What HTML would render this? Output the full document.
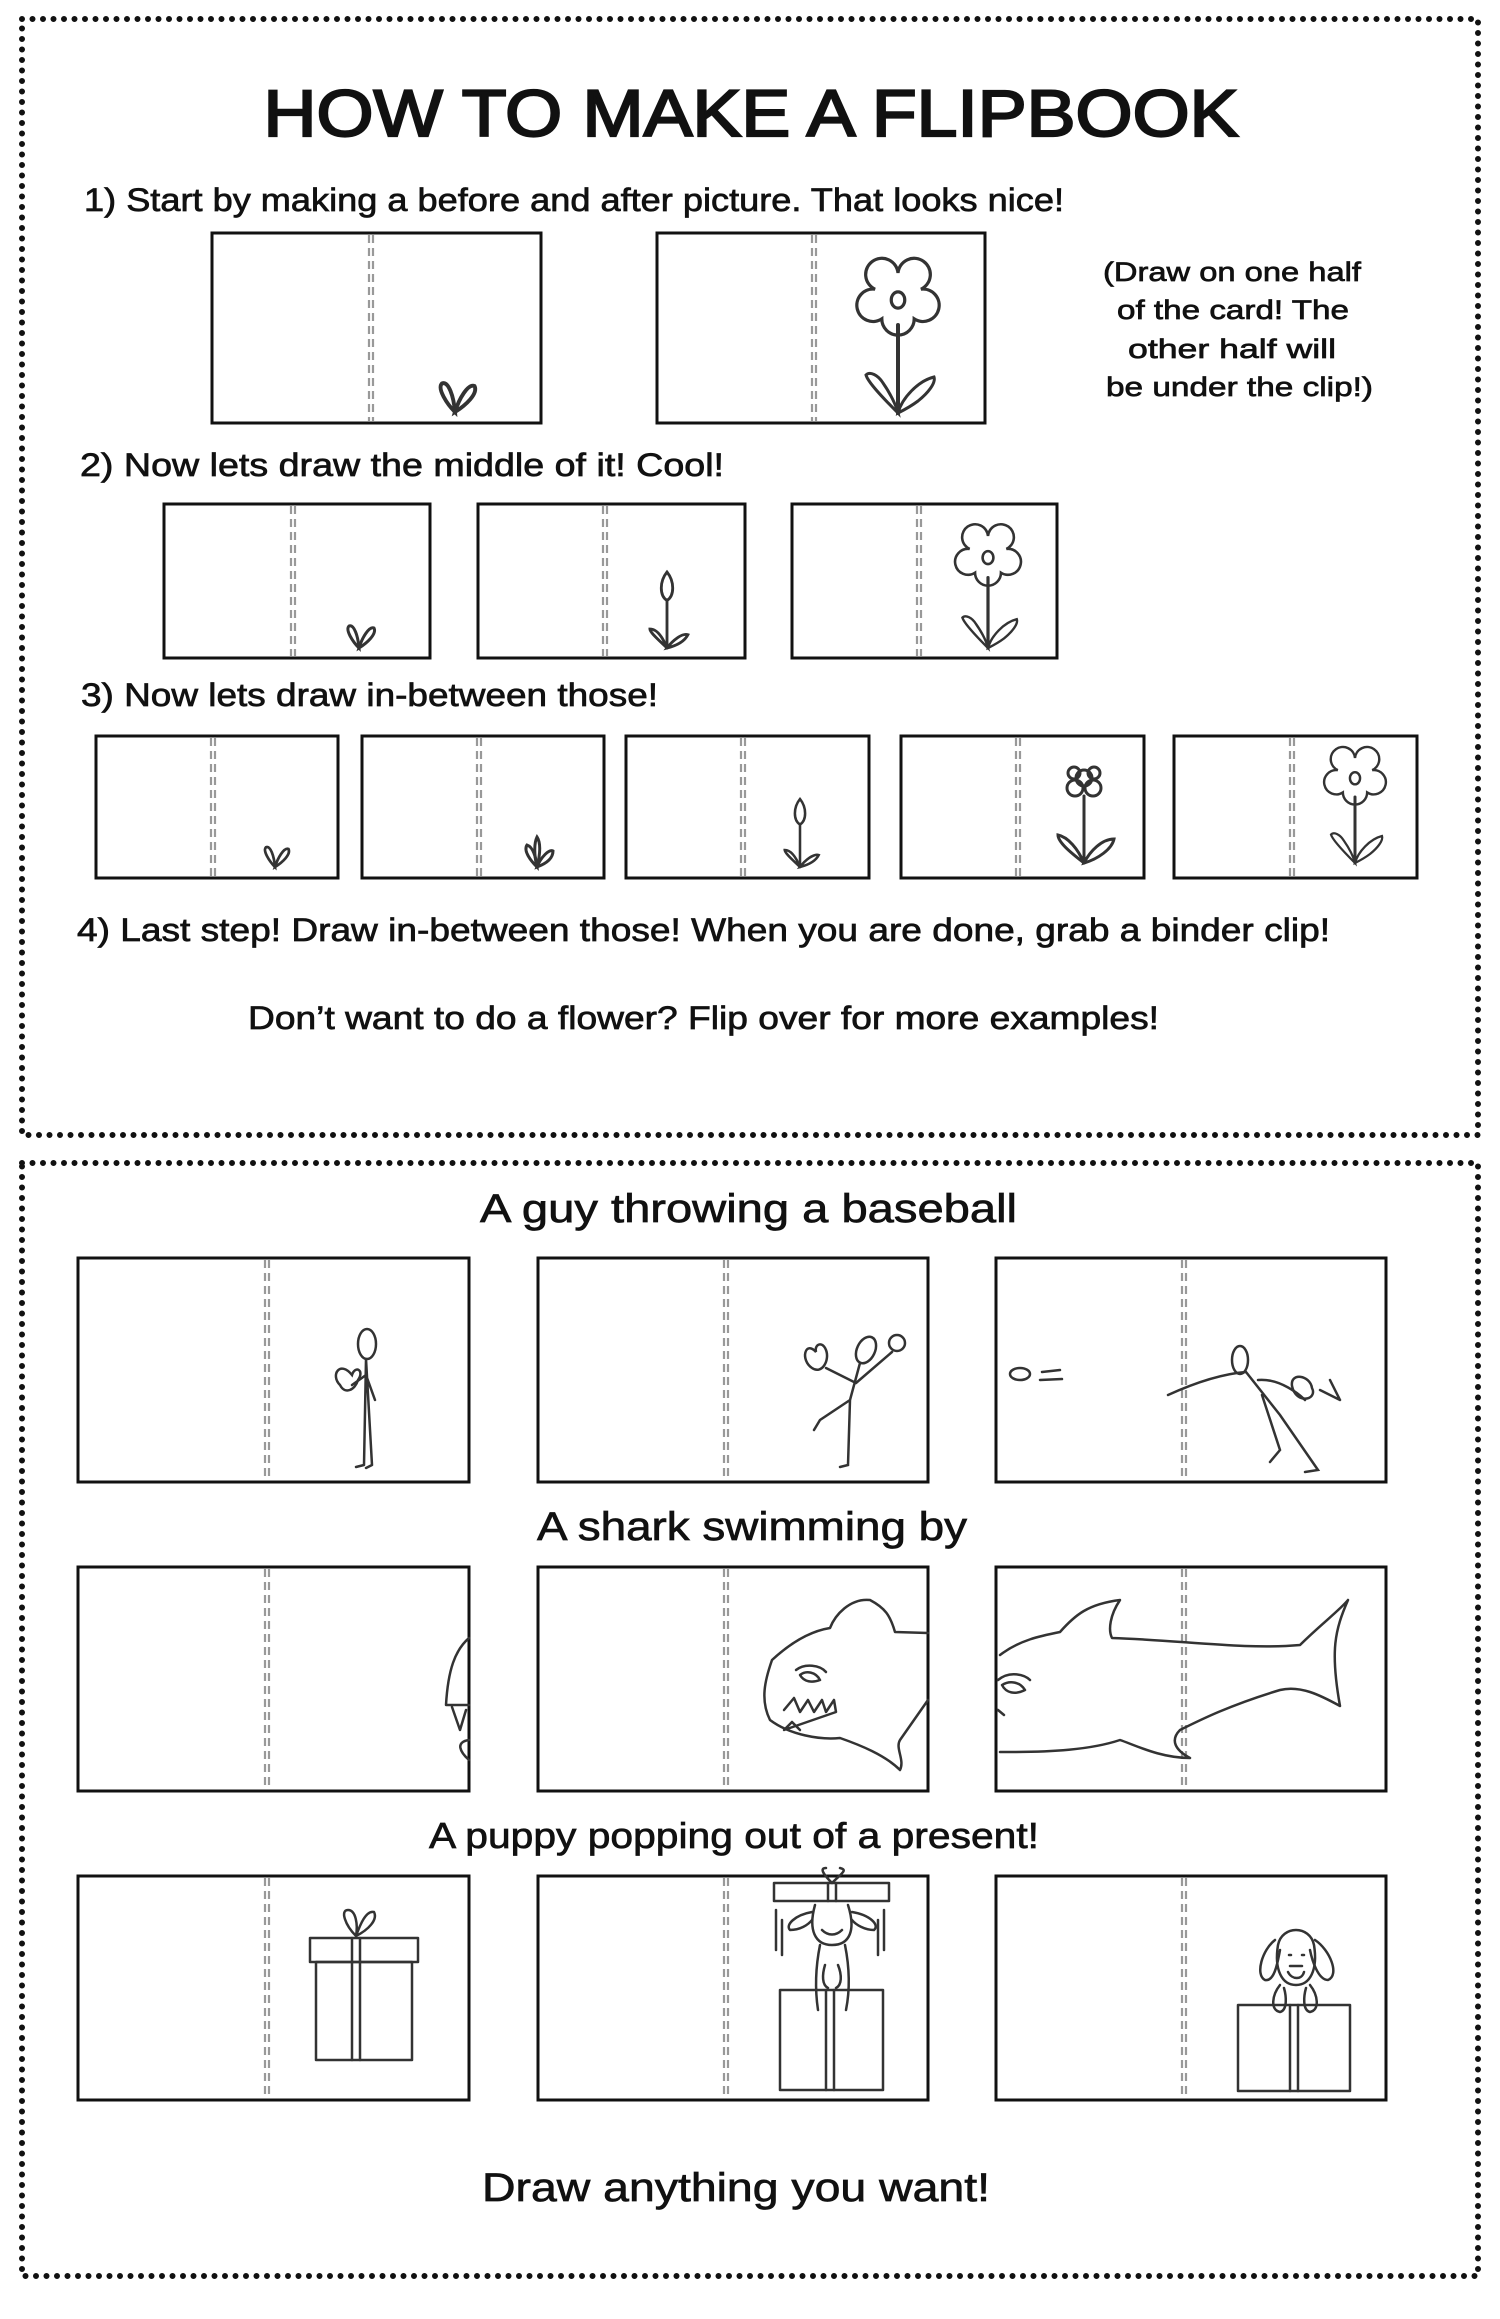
<!DOCTYPE html>
<html><head><meta charset="utf-8"><style>
html,body{margin:0;padding:0;background:#fff;}
svg{display:block;}
text{font-family:"Liberation Sans",sans-serif;fill:#111;stroke:#111;stroke-width:0.7;}
</style></head><body>
<svg width="1500" height="2319" viewBox="0 0 1500 2319" xmlns="http://www.w3.org/2000/svg">
<defs>
<g id="flower" fill="none" stroke="#333" stroke-width="3" stroke-linecap="round">
 <g transform="translate(0,-113) scale(1.35) translate(0,113)">
 <path d="M0,-113 m0,-20 a12,12 0 1,1 17,12 a12,12 0 1,1 -5,22 a12,12 0 1,1 -24,0 a12,12 0 1,1 -5,-22 a12,12 0 1,1 17,-12 z" stroke-width="2.4"/>
 <ellipse cx="0" cy="-113" rx="5" ry="6" stroke-width="2.4"/>
 </g>
 <line x1="0" y1="-88" x2="0" y2="0" stroke-width="4"/>
 <path d="M0,0 C-10,-10 -30,-30 -32,-38 C-28,-42 -20,-38 -15,-30 C-8,-20 -2,-8 0,0 Z"/>
 <path d="M0,0 C4,-15 20,-32 36,-36 C38,-30 30,-20 20,-12 C12,-6 4,-2 0,0 Z"/>
</g>
<g id="sprout" fill="none" stroke="#333" stroke-width="3" stroke-linecap="round">
 <path d="M0,0 C-6,-6 -14,-18 -10,-22 C-5,-24 -1,-12 0,0 Z"/>
 <path d="M0,0 C3,-10 10,-22 15,-20 C18,-14 8,-5 0,0 Z"/>
</g>
<g id="tulip" fill="none" stroke="#333" stroke-width="3" stroke-linecap="round">
 <path d="M0,-50 C-8,-55 -8,-70 0,-80 C8,-70 8,-55 0,-50 Z"/>
 <line x1="0" y1="-50" x2="0" y2="0"/>
 <path d="M0,0 C-6,-6 -18,-16 -18,-20 C-10,-20 -4,-10 0,0 Z"/>
 <path d="M0,0 C6,-8 16,-16 22,-14 C18,-6 8,-2 0,0 Z"/>
</g>
<g id="bud3" fill="none" stroke="#333" stroke-width="3" stroke-linecap="round">
 <path d="M0,0 C-6,-6 -14,-16 -10,-22 C-4,-20 -1,-10 0,0 Z"/>
 <path d="M0,0 C4,-10 12,-18 16,-16 C16,-8 8,-3 0,0 Z"/>
 <path d="M0,0 C-3,-12 -3,-24 0,-30 C4,-24 3,-12 0,0 Z"/>
</g>
<g id="flower2" fill="none" stroke="#333" stroke-width="3" stroke-linecap="round">
 <circle cx="-9" cy="-75" r="8"/><circle cx="9" cy="-75" r="8"/><circle cx="0" cy="-85" r="8"/><circle cx="-10" cy="-90" r="6"/><circle cx="10" cy="-90" r="6"/>
 <line x1="0" y1="-67" x2="0" y2="0"/>
 <path d="M0,0 C-10,-8 -26,-20 -26,-28 C-16,-26 -6,-14 0,0 Z"/>
 <path d="M0,0 C6,-12 18,-24 30,-24 C28,-14 14,-4 0,0 Z"/>
</g>
</defs>

<rect x="22" y="19" width="1456" height="1116" fill="none" stroke="#111" stroke-width="6" stroke-dasharray="0 10.5" stroke-linecap="round"/>
<rect x="22" y="1163" width="1456" height="1113" fill="none" stroke="#111" stroke-width="6" stroke-dasharray="0 10.5" stroke-linecap="round"/>

<text x="751" y="136" text-anchor="middle" font-size="66" style="stroke-width:2.2" textLength="975" lengthAdjust="spacingAndGlyphs">HOW TO MAKE A FLIPBOOK</text>
<text x="84" y="211" font-size="32" textLength="980" lengthAdjust="spacingAndGlyphs">1) Start by making a before and after picture. That looks nice!</text>

<g fill="none" stroke="#111" stroke-width="3">
<rect x="212" y="233" width="329" height="190"/>
<rect x="657" y="233" width="328" height="190"/>
<rect x="164" y="504" width="266" height="154"/>
<rect x="478" y="504" width="267" height="154"/>
<rect x="792" y="504" width="265" height="154"/>
<rect x="96" y="736" width="242" height="142"/>
<rect x="362" y="736" width="242" height="142"/>
<rect x="626" y="736" width="243" height="142"/>
<rect x="901" y="736" width="243" height="142"/>
<rect x="1174" y="736" width="243" height="142"/>
<rect x="78" y="1258" width="391" height="224"/>
<rect x="538" y="1258" width="390" height="224"/>
<rect x="996" y="1258" width="390" height="224"/>
<rect x="78" y="1567" width="391" height="224"/>
<rect x="538" y="1567" width="390" height="224"/>
<rect x="996" y="1567" width="390" height="224"/>
<rect x="78" y="1876" width="391" height="224"/>
<rect x="538" y="1876" width="390" height="224"/>
<rect x="996" y="1876" width="390" height="224"/>
</g>

<g stroke="#999" stroke-width="2.2" stroke-dasharray="8 5">
<path d="M369,235V421M373,235V421 M812,235V421M816,235V421
M291,506V656M295,506V656 M603,506V656M607,506V656 M917,506V656M921,506V656
M211,738V876M215,738V876 M477,738V876M481,738V876 M741,738V876M745,738V876 M1016,738V876M1020,738V876 M1290,738V876M1294,738V876
M265,1260V1480M269,1260V1480 M724,1260V1480M728,1260V1480 M1182,1260V1480M1186,1260V1480
M265,1569V1789M269,1569V1789 M724,1569V1789M728,1569V1789 M1182,1569V1789M1186,1569V1789
M265,1878V2098M269,1878V2098 M724,1878V2098M728,1878V2098 M1182,1878V2098M1186,1878V2098"/>
</g>

<use href="#sprout" transform="translate(455,412) scale(1.3)"/>
<use href="#flower" transform="translate(898,413)"/>
<use href="#sprout" transform="translate(359,648)"/>
<use href="#tulip" transform="translate(667,648) scale(0.95)"/>
<use href="#flower" transform="translate(988,648) scale(0.8)"/>
<use href="#sprout" transform="translate(275,867) scale(0.9)"/>
<use href="#bud3" transform="translate(537,867)"/>
<use href="#tulip" transform="translate(800,867) scale(0.85)"/>
<use href="#flower2" transform="translate(1084,863)"/>
<use href="#flower" transform="translate(1355,863) scale(0.75)"/>

<text font-size="27">
<tspan x="1103" y="281" textLength="258" lengthAdjust="spacingAndGlyphs">(Draw on one half</tspan>
</text>
<text font-size="27" x="1117" y="319" textLength="232" lengthAdjust="spacingAndGlyphs">of the card! The</text>
<text font-size="27" x="1128" y="358" textLength="208" lengthAdjust="spacingAndGlyphs">other half will</text>
<text font-size="27" x="1106" y="396" textLength="267" lengthAdjust="spacingAndGlyphs">be under the clip!)</text>

<text x="80" y="476" font-size="32" textLength="644" lengthAdjust="spacingAndGlyphs">2) Now lets draw the middle of it! Cool!</text>
<text x="81" y="706" font-size="32" textLength="577" lengthAdjust="spacingAndGlyphs">3) Now lets draw in-between those!</text>
<text x="77" y="941" font-size="32" textLength="1253" lengthAdjust="spacingAndGlyphs">4) Last step! Draw in-between those! When you are done, grab a binder clip!</text>
<text x="248" y="1029" font-size="32" textLength="911" lengthAdjust="spacingAndGlyphs">Don’t want to do a flower? Flip over for more examples!</text>

<text x="480" y="1222" font-size="40" textLength="537" lengthAdjust="spacingAndGlyphs">A guy throwing a baseball</text>
<text x="537" y="1540" font-size="40" textLength="430" lengthAdjust="spacingAndGlyphs">A shark swimming by</text>
<text x="429" y="1848" font-size="36" textLength="610" lengthAdjust="spacingAndGlyphs">A puppy popping out of a present!</text>
<text x="482" y="2201" font-size="40" textLength="508" lengthAdjust="spacingAndGlyphs">Draw anything you want!</text>

<g fill="none" stroke="#333" stroke-width="2.5" stroke-linecap="round">
 <ellipse cx="367" cy="1344" rx="9" ry="15"/>
 <path d="M366,1359 L364,1465 M366,1359 L372,1465 M364,1465 L356,1467 M372,1465 L366,1468 M366,1375 L375,1400 M366,1375 L352,1385"/>
 <path d="M352,1375 C340,1360 330,1375 340,1385 C345,1395 355,1390 358,1380 C365,1370 355,1365 352,1375Z"/>
 <ellipse cx="866" cy="1350" rx="9" ry="14" transform="rotate(25 866 1350)"/>
 <circle cx="897" cy="1343" r="8"/>
 <path d="M860,1363 L850,1400 L848,1465 L840,1467 M850,1400 L820,1420 L814,1430 M856,1383 L826,1368 M856,1383 L892,1352"/>
 <path d="M816,1352 C805,1340 800,1360 812,1368 C822,1375 830,1360 826,1350 C822,1340 814,1345 816,1352Z"/>
 <ellipse cx="1020" cy="1374" rx="10" ry="6"/>
 <path d="M1042,1372 L1060,1370 M1040,1380 L1062,1379"/>
 <ellipse cx="1240" cy="1360" rx="8" ry="14"/>
 <path d="M1246,1372 L1280,1415 L1318,1470 L1305,1472 M1262,1395 L1280,1450 L1270,1462 M1246,1372 C1220,1374 1190,1385 1168,1395 M1258,1380 C1280,1378 1300,1395 1305,1400 M1320,1390 L1340,1400 M1330,1380 L1340,1400"/>
 <path d="M1292,1386 C1290,1372 1310,1375 1312,1388 C1318,1400 1296,1405 1292,1386Z"/>
</g>

<g fill="none" stroke="#333" stroke-width="2.5" stroke-linecap="round" stroke-linejoin="round">
 <path d="M469,1638 C455,1650 448,1670 446,1705 L469,1705 M452,1707 L460,1730 L466,1710 M469,1740 C455,1742 460,1752 469,1760"/>
 <path d="M928,1633 L895,1632 C890,1615 885,1608 870,1600 C850,1598 835,1615 830,1628 C805,1632 785,1648 772,1660 C765,1680 760,1700 770,1720 C790,1735 820,1740 840,1738 C860,1745 885,1755 900,1770 C905,1760 895,1748 900,1740 L928,1700"/>
 <path d="M784,1710 L794,1698 L800,1712 L808,1700 L814,1712 L822,1700 L826,1712 L834,1700 L836,1712 L784,1730 L792,1722 L800,1730"/>
 <path d="M796,1670 C805,1663 820,1665 826,1672 M800,1675 C806,1670 816,1672 820,1680 C812,1683 804,1682 800,1675Z"/>
 <path d="M1000,1655 C1020,1640 1040,1636 1060,1632 C1075,1615 1088,1604 1120,1600 C1110,1615 1108,1630 1112,1638 C1180,1640 1245,1650 1300,1645 C1320,1625 1340,1610 1348,1600 C1335,1630 1330,1650 1340,1706 C1320,1695 1300,1685 1280,1690 C1230,1705 1200,1720 1180,1730 C1170,1740 1175,1750 1190,1758 C1160,1758 1135,1745 1120,1740 C1090,1750 1050,1752 1010,1752 L1000,1752"/>
 <path d="M998,1680 C1010,1670 1025,1675 1030,1680 M1002,1685 C1010,1680 1020,1682 1025,1690 C1015,1695 1006,1693 1002,1685Z M998,1710 L1004,1715"/>
</g>

<g fill="none" stroke="#333" stroke-width="2.5" stroke-linecap="round" stroke-linejoin="round">
 <rect x="310" y="1938" width="108" height="24"/>
 <rect x="316" y="1962" width="96" height="98"/>
 <path d="M352,1938 V2060 M360,1938 V2060"/>
 <path d="M356,1936 C345,1925 340,1910 348,1910 C356,1910 358,1925 356,1936 C360,1925 366,1910 374,1912 C378,1920 368,1930 356,1936Z"/>
 <rect x="774" y="1883" width="115" height="18"/>
 <path d="M828,1883 V1901 M836,1883 V1901 M832,1883 C822,1873 820,1868 826,1868 M832,1883 C842,1873 848,1870 840,1868"/>
 <path d="M812,1912 C795,1915 785,1925 790,1930 C800,1930 808,1925 812,1920 M852,1912 C870,1915 880,1925 874,1930 C865,1930 856,1925 852,1920"/>
 <path d="M815,1905 C808,1930 815,1945 832,1945 C850,1945 856,1930 848,1905 M822,1930 C828,1936 836,1936 842,1930"/>
 <path d="M820,1945 C815,1970 815,1990 818,2010 M845,1945 C850,1970 850,1990 846,2010 M825,1965 C822,1975 822,1985 828,1988 M838,1965 C842,1975 842,1985 836,1988"/>
 <path d="M776,1910 V1950 M782,1920 V1955 M884,1910 V1950 M878,1920 V1955"/>
 <rect x="780" y="1990" width="103" height="100"/>
 <path d="M826,1990 V2090 M834,1990 V2090"/>
 <rect x="1238" y="2005" width="112" height="86"/>
 <path d="M1290,2005 V2091 M1298,2005 V2091"/>
 <path d="M1275,1940 C1262,1950 1255,1975 1265,1980 C1275,1982 1278,1960 1280,1950 M1315,1940 C1330,1950 1340,1975 1328,1980 C1318,1980 1312,1960 1310,1950"/>
 <path d="M1278,1945 C1282,1925 1310,1925 1314,1945 C1318,1970 1310,1985 1296,1985 C1282,1985 1274,1970 1278,1945Z"/>
 <path d="M1290,1966 L1302,1966 M1288,1972 C1292,1980 1302,1980 1304,1972 M1289,1955 L1291,1955 M1302,1955 L1304,1955"/>
 <path d="M1280,1985 C1272,1995 1270,2010 1280,2012 C1288,2010 1286,1995 1284,1988 M1310,1985 C1318,1995 1320,2010 1310,2012 C1302,2010 1304,1995 1306,1988"/>
</g>
</svg>
</body></html>
